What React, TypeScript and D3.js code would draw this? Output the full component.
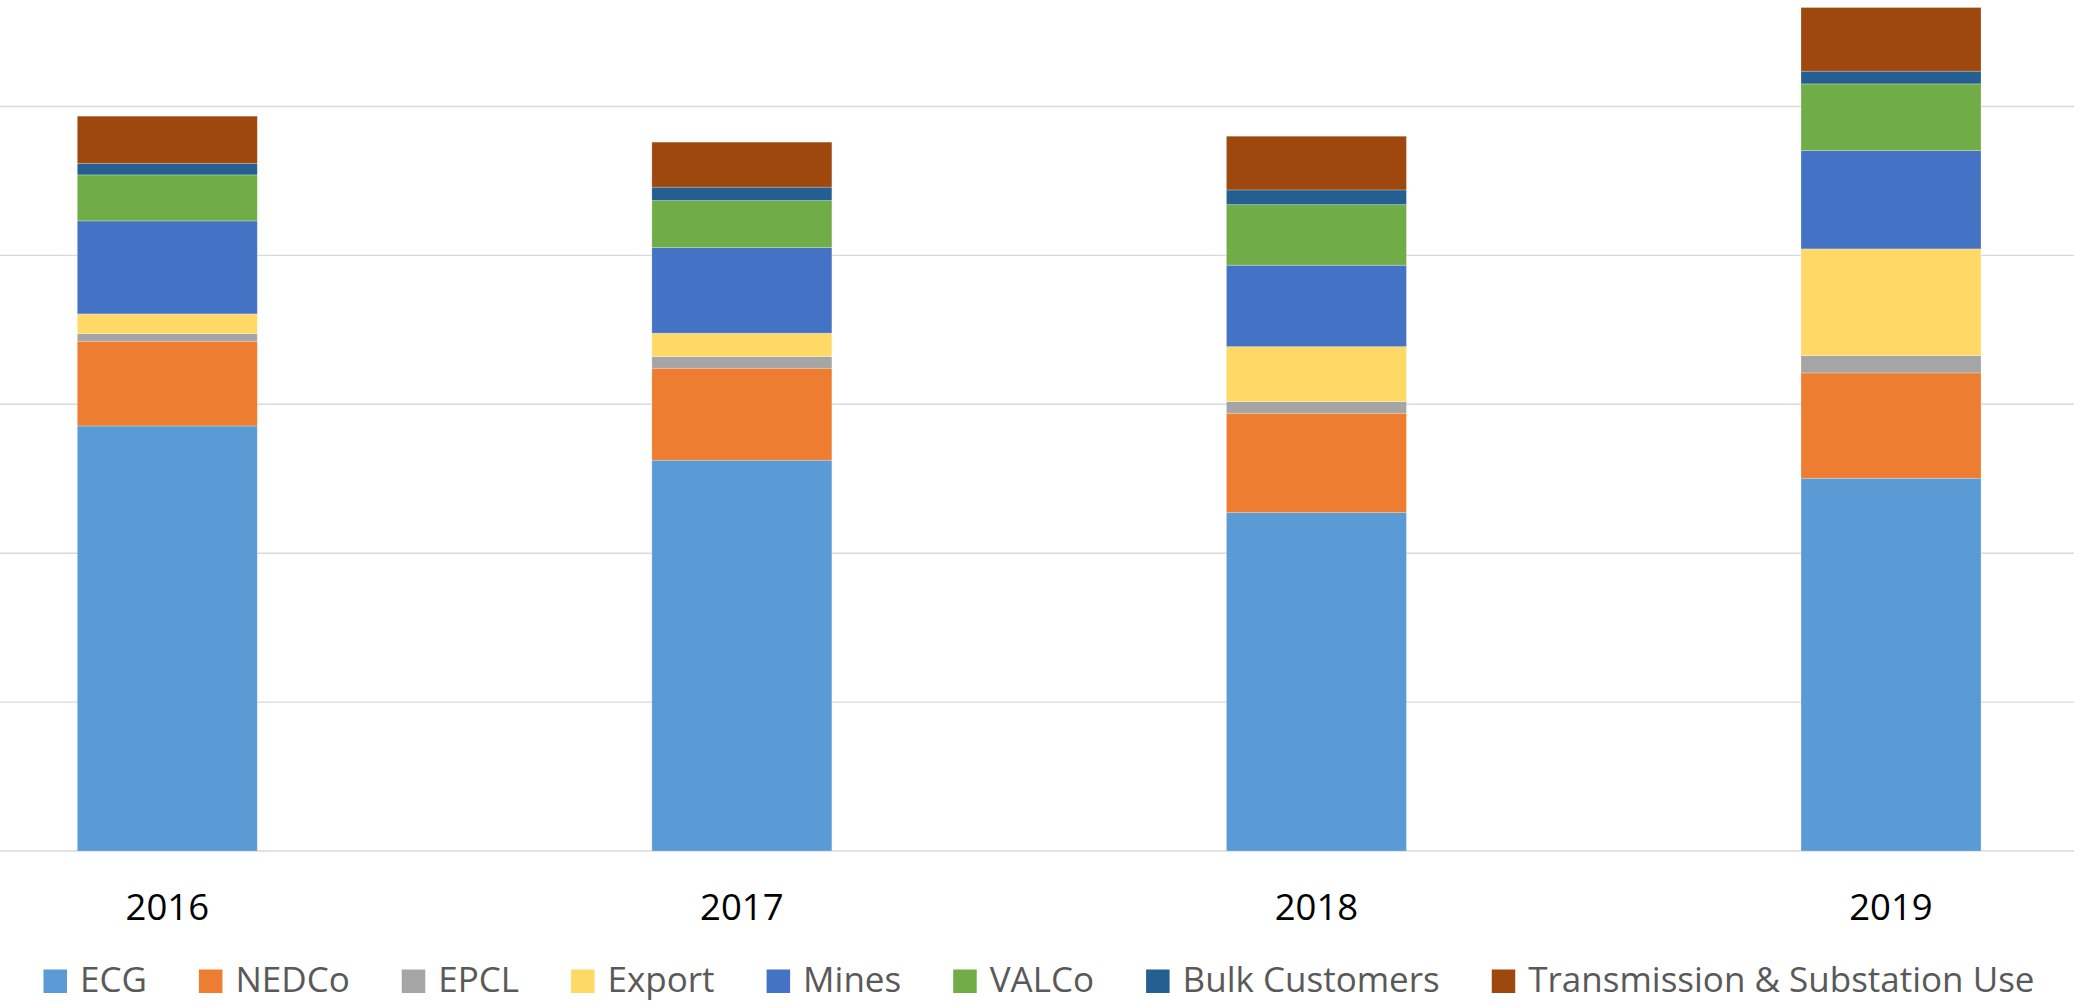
import React, { useEffect, useRef } from "react";
import * as d3 from "d3";

const years = ["2016", "2017", "2018", "2019"];
const seriesNames = ["ECG", "NEDCo", "EPCL", "Export", "Mines", "VALCo", "Bulk Customers", "Transmission & Substation Use"];
const seriesColors = ["#5B9BD5", "#ED7D31", "#A5A5A5", "#FFD966", "#4472C4", "#70AD47", "#255E91", "#9E480E"];

// values in GWh
const ecg = [8564, 7873, 6817, 7510];
const nedco = [1707, 1854, 2003, 2122];
const epcl = [153, 234, 234, 349];
const exportVals = [397, 472, 1108, 2150];
const mines = [1874, 1725, 1640, 1981];
const valco = [927, 947, 1221, 1344];
const bulk = [228, 270, 296, 256];
const transmission = [955, 907, 1082, 1282];

const yTicks = [0, 3000, 6000, 9000, 12000, 15000];

const W = 2074;
const H = 1002;

export default function App() {
  const ref = useRef<SVGSVGElement | null>(null);

  useEffect(() => {
    const svg = d3.select(ref.current);
    svg.selectAll("*").remove();

    const seriesVals = [ecg, nedco, epcl, exportVals, mines, valco, bulk, transmission];
    const rows = years.map((yr, i) => {
      const r: any = { year: yr };
      seriesNames.forEach((s, j) => (r[s] = seriesVals[j][i]));
      return r;
    });

    const stack = d3.stack<any>().keys(seriesNames);
    const stacked = stack(rows);

    const y = d3.scaleLinear().domain([0, 15000]).range([851, 106.5]);
    const x = d3.scalePoint<string>().domain(years).range([167.3, 1891]);
    const barW = 180;

    // gridlines
    svg
      .append("g")
      .selectAll("line")
      .data(yTicks)
      .join("line")
      .attr("x1", 0)
      .attr("x2", W)
      .attr("y1", (d) => y(d))
      .attr("y2", (d) => y(d))
      .attr("stroke", "#d9d9d9")
      .attr("stroke-width", 1.4);

    // bars
    const g = svg.append("g");
    stacked.forEach((layer, li) => {
      g.append("g")
        .attr("fill", seriesColors[li])
        .selectAll("rect")
        .data(layer)
        .join("rect")
        .attr("x", (d: any) => (x(d.data.year) as number) - barW / 2)
        .attr("width", barW)
        .attr("y", (d: any) => y(d[1]))
        .attr("height", (d: any) => y(d[0]) - y(d[1]))
        .attr("stroke", "rgba(255,255,255,0.3)")
        .attr("stroke-width", 0.8);
    });

    // x labels
    svg
      .append("g")
      .selectAll("text")
      .data(years)
      .join("text")
      .attr("x", (d) => x(d) as number)
      .attr("y", 919.5)
      .attr("text-anchor", "middle")
      .attr("font-family", "'Open Sans', sans-serif")
      .attr("font-size", 36.5)
      .attr("fill", "#000")
      .text((d) => d);

    // legend
    const leg = svg.append("g");
    const sq = 23.5;
    const gapSq = 13;
    const gapItem = 52;
    const items = seriesNames.map((name, i) => {
      const it = leg.append("g");
      it.append("rect").attr("width", sq).attr("height", sq).attr("y", 969.5).attr("fill", seriesColors[i]);
      const t = it
        .append("text")
        .attr("x", sq + gapSq)
        .attr("y", 992)
        .attr("font-family", "'Open Sans', sans-serif")
        .attr("font-size", 35)
        .attr("fill", "#595959")
        .text(name);
      const tw = (t.node() as SVGTextElement).getComputedTextLength();
      return { it, w: sq + gapSq + tw };
    });
    const total = d3.sum(items, (d) => d.w) + gapItem * (items.length - 1);
    let cx = (W - total) / 2 + 2;
    items.forEach((d) => {
      d.it.attr("transform", `translate(${cx},0)`);
      cx += d.w + gapItem;
    });
  }, []);

  return (
    <svg
      ref={ref}
      width={W}
      height={H}
      style={{ position: "absolute", left: 0, top: 0, background: "#fff" }}
    />
  );
}
